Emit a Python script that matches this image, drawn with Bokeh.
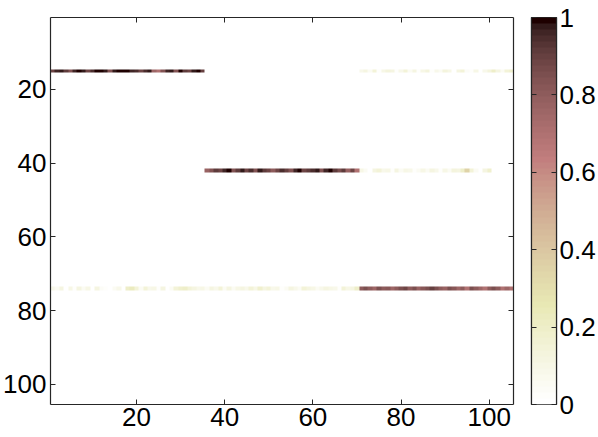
import numpy as np
from bokeh.plotting import figure
from bokeh.models import LinearColorMapper, Range1d, LinearAxis, FixedTicker
from bokeh.layouts import row
from bokeh.embed import file_html
from bokeh.resources import INLINE

N = 105
x_ticks = [20, 40, 60, 80, 100]
y_ticks = [20, 40, 60, 80, 100]
cb_ticks = [0, 0.2, 0.4, 0.6, 0.8, 1]

# row 15: columns 1-35 strong, columns 71-105 faint
row15_strong = [0.88, 0.96, 0.98, 0.92, 0.84, 0.96, 1.0, 0.98, 0.88, 0.94, 0.99, 1.0, 0.98, 0.84, 0.97,
                0.99, 1.0, 0.99, 0.96, 0.94, 0.88, 0.94, 0.97, 0.76, 0.7, 0.84, 0.96, 0.98, 0.84, 0.99,
                0.92, 0.88, 0.97, 0.99, 0.9]
row15_faint = [0.08, 0.12, 0.05, 0.15, 0.03, 0.1, 0.14, 0.12, 0.02, 0.08, 0.15, 0.05, 0.12, 0.03, 0.1,
               0.13, 0.02, 0.08, 0.05, 0.14, 0.1, 0.0, 0.12, 0.15, 0.04, 0.03, 0.1, 0.0, 0.08, 0.14,
               0.2, 0.12, 0.05, 0.15, 0.18]
# row 42: columns 36-70 strong, columns 71-104 faint
row42_strong = [0.78, 0.84, 0.92, 0.88, 0.96, 0.99, 0.84, 0.92, 0.98, 0.88, 0.94, 0.84, 0.97, 0.92, 0.88,
                0.8, 0.88, 0.94, 0.9, 0.84, 0.96, 0.99, 0.88, 0.92, 0.94, 0.98, 0.84, 0.96, 0.99, 0.92,
                0.85, 0.92, 0.78, 0.88, 0.7]
row42_faint = [0.1, 0.05, 0.0, 0.12, 0.15, 0.08, 0.1, 0.02, 0.12, 0.05, 0.1, 0.08, 0.02, 0.06, 0.1,
               0.05, 0.12, 0.08, 0.02, 0.1, 0.06, 0.14, 0.12, 0.2, 0.35, 0.15, 0.05, 0.0, 0.12, 0.18,
               0.0, 0.0, 0.0, 0.0]
# row 74: columns 1-70 faint, columns 71-105 strong
row74_faint = [0.08, 0.05, 0.12, 0.0, 0.1, 0.03, 0.12, 0.05, 0.1, 0.0, 0.12, 0.04, 0.02, 0.0, 0.05,
               0.08, 0.0, 0.2, 0.22, 0.15, 0.05, 0.15, 0.08, 0.1, 0.02, 0.12, 0.0, 0.05, 0.15, 0.18,
               0.2, 0.15, 0.12, 0.08, 0.1, 0.05, 0.12, 0.08, 0.15, 0.05, 0.12, 0.05, 0.1, 0.12, 0.08,
               0.15, 0.1, 0.18, 0.12, 0.15, 0.08, 0.1, 0.02, 0.05, 0.12, 0.08, 0.05, 0.15, 0.12, 0.1,
               0.05, 0.08, 0.12, 0.1, 0.08, 0.02, 0.15, 0.1, 0.12, 0.2]
row74_strong = [0.8, 0.85, 0.8, 0.75, 0.85, 0.8, 0.82, 0.75, 0.8, 0.85, 0.88, 0.8, 0.85, 0.78, 0.82,
                0.85, 0.9, 0.85, 0.8, 0.78, 0.85, 0.82, 0.75, 0.8, 0.7, 0.85, 0.8, 0.75, 0.7, 0.8,
                0.85, 0.8, 0.7, 0.75, 0.7]

M = np.zeros((N, N))
M[14, 0:35] = row15_strong
M[14, 70:105] = row15_faint
M[41, 35:70] = row42_strong
M[41, 70:104] = row42_faint
M[73, 0:70] = row74_faint
M[73, 70:105] = row74_strong

# MATLAB "pink" colormap, flipped (0 -> white, 1 -> dark)
m = 64
n = int(3 / 8 * m)
hot_r = [(i + 1) / n for i in range(n)] + [1.0] * (m - n)
hot_g = [0.0] * n + [(i + 1) / n for i in range(n)] + [1.0] * (m - 2 * n)
hot_b = [0.0] * (2 * n) + [(i + 1) / (m - 2 * n) for i in range(m - 2 * n)]
palette = []
for i in range(m):
    g = i / (m - 1)
    r = np.sqrt((2 * g + hot_r[i]) / 3)
    gg = np.sqrt((2 * g + hot_g[i]) / 3)
    b = np.sqrt((2 * g + hot_b[i]) / 3)
    palette.append("#%02x%02x%02x" % (int(round(r * 255)), int(round(gg * 255)), int(round(b * 255))))
palette = palette[::-1]

mapper = LinearColorMapper(palette=palette, low=0, high=1)

FONT = "Liberation Sans"
FS = "26px"
AX = "#262626"

p = figure(frame_width=463, frame_height=387, output_backend="svg", toolbar_location=None,
           x_range=Range1d(0.5, N + 0.5), y_range=Range1d(N + 0.5, 0.5),
           min_border_left=48, min_border_right=9, min_border_top=17, min_border_bottom=33,
           x_axis_location=None, y_axis_location=None)
p.grid.visible = False
p.outline_line_color = None
p.image(image=[M], x=0.5, y=0.5, dw=N, dh=N, color_mapper=mapper)


def make_axis(ticks, labels=True, standoff=3):
    ax = LinearAxis(ticker=FixedTicker(ticks=ticks))
    ax.minor_tick_line_color = None
    ax.major_tick_in = 5
    ax.major_tick_out = 0
    ax.axis_line_color = AX
    ax.major_tick_line_color = AX
    ax.axis_line_width = 1.2
    ax.major_label_text_font = FONT
    ax.major_label_text_font_size = FS
    ax.major_label_text_color = "black"
    ax.major_label_standoff = standoff
    if not labels:
        ax.major_label_overrides = {t: "" for t in ticks}
    return ax


p.add_layout(make_axis(x_ticks, standoff=3), "below")
p.add_layout(make_axis(x_ticks, False), "above")
p.add_layout(make_axis(y_ticks, standoff=4), "left")
p.add_layout(make_axis(y_ticks, False), "right")

# colorbar as a separate small figure
grad = np.linspace(0, 1, m).reshape(m, 1)
cb = figure(frame_width=25, frame_height=387, output_backend="svg", toolbar_location=None,
            x_range=Range1d(0, 1), y_range=Range1d(0, 1),
            min_border_left=9, min_border_right=44, min_border_top=17, min_border_bottom=33,
            x_axis_location=None, y_axis_location=None)
cb.grid.visible = False
cb.outline_line_color = AX
cb.outline_line_width = 1.2
cb.image(image=[grad], x=0, y=0, dw=1, dh=1, color_mapper=mapper)
cbr = make_axis(cb_ticks, standoff=3)
cbr.major_label_overrides = {0: "0", 1: "1", 0.2: "0.2", 0.4: "0.4", 0.6: "0.6", 0.8: "0.8"}
cb.add_layout(cbr, "right")
cb.add_layout(make_axis(cb_ticks, False), "left")

layout = row(p, cb)
open("out.html", "w").write(file_html(layout, INLINE))
